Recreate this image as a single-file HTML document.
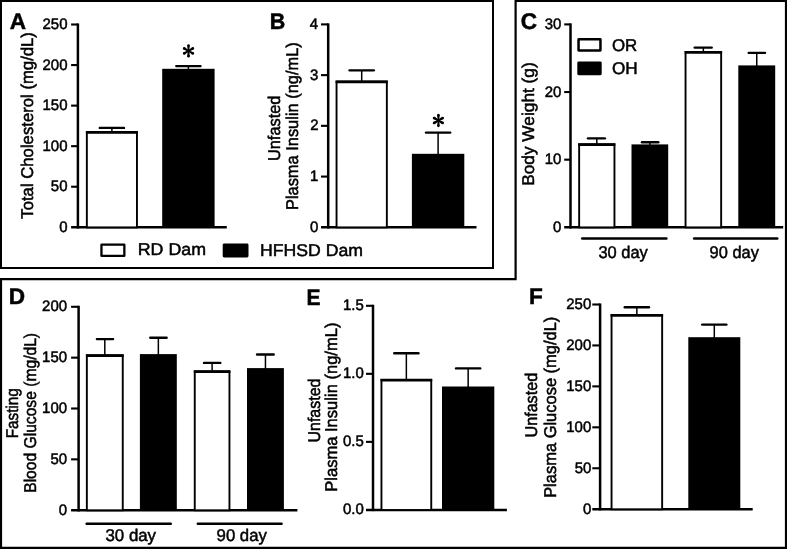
<!DOCTYPE html>
<html><head><meta charset="utf-8"><title>Figure</title>
<style>
html,body{margin:0;padding:0;background:#fff;}
body{width:787px;height:549px;overflow:hidden;font-family:"Liberation Sans",sans-serif;}
svg{display:block;filter:grayscale(1);}
svg text{font-family:"Liberation Sans",sans-serif;fill:#000;stroke:#000;stroke-width:0.5;text-rendering:geometricPrecision;}
</style></head><body>
<svg width="787" height="549" viewBox="0 0 787 549">
<rect width="787" height="549" fill="#fff"/>
<rect x="1" y="1" width="492" height="267" fill="none" stroke="#000" stroke-width="2"/>
<polygon points="515.6,1 786,1 786,547.8 1,547.8 1,279.15 515.6,279.15" fill="none" stroke="#000" stroke-width="2.2"/>
<line x1="77.90" y1="23.45" x2="77.90" y2="228.55" stroke="#000" stroke-width="2.5" stroke-linecap="butt"/>
<line x1="71.10" y1="227.30" x2="226.80" y2="227.30" stroke="#000" stroke-width="2.5" stroke-linecap="butt"/>
<text transform="translate(59.15 231.84) scale(0.9850 1)" font-size="15.2" font-weight="normal">0</text>
<line x1="71.10" y1="186.74" x2="77.90" y2="186.74" stroke="#000" stroke-width="2.1" stroke-linecap="butt"/>
<text transform="translate(50.84 191.28) scale(0.9850 1)" font-size="15.2" font-weight="normal">50</text>
<line x1="71.10" y1="146.18" x2="77.90" y2="146.18" stroke="#000" stroke-width="2.1" stroke-linecap="butt"/>
<text transform="translate(42.50 150.72) scale(0.9850 1)" font-size="15.2" font-weight="normal">100</text>
<line x1="71.10" y1="105.62" x2="77.90" y2="105.62" stroke="#000" stroke-width="2.1" stroke-linecap="butt"/>
<text transform="translate(42.50 110.16) scale(0.9850 1)" font-size="15.2" font-weight="normal">150</text>
<line x1="71.10" y1="65.06" x2="77.90" y2="65.06" stroke="#000" stroke-width="2.1" stroke-linecap="butt"/>
<text transform="translate(42.50 69.60) scale(0.9850 1)" font-size="15.2" font-weight="normal">200</text>
<line x1="71.10" y1="24.50" x2="77.90" y2="24.50" stroke="#000" stroke-width="2.1" stroke-linecap="butt"/>
<text transform="translate(42.50 29.04) scale(0.9850 1)" font-size="15.2" font-weight="normal">250</text>
<line x1="111.90" y1="127.90" x2="111.90" y2="132.10" stroke="#000" stroke-width="1.5" stroke-linecap="butt"/>
<line x1="99.78" y1="127.90" x2="124.03" y2="127.90" stroke="#000" stroke-width="2.35" stroke-linecap="round"/>
<rect x="86.85" y="132.15" width="50.10" height="95.25" fill="#fff" stroke="#000" stroke-width="1.9"/>
<line x1="85.90" y1="132.40" x2="137.90" y2="132.40" stroke="#000" stroke-width="2.7" stroke-linecap="butt"/>
<line x1="188.40" y1="66.05" x2="188.40" y2="69.80" stroke="#000" stroke-width="1.5" stroke-linecap="butt"/>
<line x1="176.27" y1="66.05" x2="200.52" y2="66.05" stroke="#000" stroke-width="2.35" stroke-linecap="round"/>
<rect x="162.20" y="68.80" width="52.40" height="158.50" fill="#000"/>
<polygon points="189.30,50.50 189.80,45.55 187.20,45.55 187.70,50.50" fill="#000"/>
<circle cx="188.50" cy="45.55" r="1.30" fill="#000"/>
<polygon points="188.55,50.01 184.82,47.27 183.52,49.53 187.75,51.39" fill="#000"/>
<circle cx="184.17" cy="48.40" r="1.30" fill="#000"/>
<polygon points="187.75,50.41 183.52,52.27 184.82,54.53 188.55,51.79" fill="#000"/>
<circle cx="184.17" cy="53.40" r="1.30" fill="#000"/>
<polygon points="187.70,51.30 187.20,56.25 189.80,56.25 189.30,51.30" fill="#000"/>
<circle cx="188.50" cy="56.25" r="1.30" fill="#000"/>
<polygon points="188.45,51.79 192.18,54.53 193.48,52.27 189.25,50.41" fill="#000"/>
<circle cx="192.83" cy="53.40" r="1.30" fill="#000"/>
<polygon points="189.25,51.39 193.48,49.53 192.18,47.27 188.45,50.01" fill="#000"/>
<circle cx="192.83" cy="48.40" r="1.30" fill="#000"/>
<circle cx="188.50" cy="50.90" r="1.4" fill="#000"/>
<text transform="translate(9.63 28.80) scale(1.0000 1)" font-size="22.6" font-weight="bold">A</text>
<text transform="translate(33.10 218.68) rotate(-90) scale(0.9826 1)" font-size="17" font-weight="normal">Total Cholesterol (mg/dL)</text>
<rect x="101.45" y="244.55" width="22.90" height="11.40" rx="0.25" fill="#fff" stroke="#000" stroke-width="2.3"/>
<text transform="translate(137.73 255.40) scale(1.0472 1)" font-size="17" font-weight="normal">RD Dam</text>
<rect x="222.70" y="243.50" width="25.80" height="13.90" rx="1.4" fill="#000"/>
<text transform="translate(259.94 255.80) scale(1.0389 1)" font-size="17" font-weight="normal">HFHSD Dam</text>
<line x1="328.20" y1="23.35" x2="328.20" y2="228.55" stroke="#000" stroke-width="2.5" stroke-linecap="butt"/>
<line x1="321.00" y1="227.30" x2="476.50" y2="227.30" stroke="#000" stroke-width="2.5" stroke-linecap="butt"/>
<text transform="translate(309.95 231.84) scale(0.9850 1)" font-size="15.2" font-weight="normal">0</text>
<line x1="321.00" y1="176.58" x2="328.20" y2="176.58" stroke="#000" stroke-width="2.1" stroke-linecap="butt"/>
<text transform="translate(310.10 181.12) scale(0.9850 1)" font-size="15.2" font-weight="normal">1</text>
<line x1="321.00" y1="125.85" x2="328.20" y2="125.85" stroke="#000" stroke-width="2.1" stroke-linecap="butt"/>
<text transform="translate(310.14 130.39) scale(0.9850 1)" font-size="15.2" font-weight="normal">2</text>
<line x1="321.00" y1="75.12" x2="328.20" y2="75.12" stroke="#000" stroke-width="2.1" stroke-linecap="butt"/>
<text transform="translate(310.03 79.67) scale(0.9850 1)" font-size="15.2" font-weight="normal">3</text>
<line x1="321.00" y1="24.40" x2="328.20" y2="24.40" stroke="#000" stroke-width="2.1" stroke-linecap="butt"/>
<text transform="translate(309.80 28.94) scale(0.9850 1)" font-size="15.2" font-weight="normal">4</text>
<line x1="361.70" y1="70.30" x2="361.70" y2="81.50" stroke="#000" stroke-width="1.5" stroke-linecap="butt"/>
<line x1="349.58" y1="70.30" x2="373.83" y2="70.30" stroke="#000" stroke-width="2.35" stroke-linecap="round"/>
<rect x="336.55" y="81.55" width="50.30" height="145.85" fill="#fff" stroke="#000" stroke-width="1.9"/>
<line x1="335.60" y1="81.80" x2="387.80" y2="81.80" stroke="#000" stroke-width="2.7" stroke-linecap="butt"/>
<line x1="438.10" y1="132.60" x2="438.10" y2="154.80" stroke="#000" stroke-width="1.5" stroke-linecap="butt"/>
<line x1="425.98" y1="132.60" x2="450.23" y2="132.60" stroke="#000" stroke-width="2.35" stroke-linecap="round"/>
<rect x="411.90" y="153.80" width="52.40" height="73.50" fill="#000"/>
<polygon points="439.20,120.10 439.70,115.15 437.10,115.15 437.60,120.10" fill="#000"/>
<circle cx="438.40" cy="115.15" r="1.30" fill="#000"/>
<polygon points="438.45,119.61 434.72,116.87 433.42,119.13 437.65,120.99" fill="#000"/>
<circle cx="434.07" cy="118.00" r="1.30" fill="#000"/>
<polygon points="437.65,120.01 433.42,121.87 434.72,124.13 438.45,121.39" fill="#000"/>
<circle cx="434.07" cy="123.00" r="1.30" fill="#000"/>
<polygon points="437.60,120.90 437.10,125.85 439.70,125.85 439.20,120.90" fill="#000"/>
<circle cx="438.40" cy="125.85" r="1.30" fill="#000"/>
<polygon points="438.35,121.39 442.08,124.13 443.38,121.87 439.15,120.01" fill="#000"/>
<circle cx="442.73" cy="123.00" r="1.30" fill="#000"/>
<polygon points="439.15,120.99 443.38,119.13 442.08,116.87 438.35,119.61" fill="#000"/>
<circle cx="442.73" cy="118.00" r="1.30" fill="#000"/>
<circle cx="438.40" cy="120.50" r="1.4" fill="#000"/>
<text transform="translate(269.85 28.70) scale(0.9500 1)" font-size="22.6" font-weight="bold">B</text>
<text transform="translate(280.20 161.07) rotate(-90) scale(0.9625 1)" font-size="17" font-weight="normal">Unfasted</text>
<text transform="translate(297.80 210.05) rotate(-90) scale(0.9652 1)" font-size="17" font-weight="normal">Plasma Insulin (ng/mL)</text>
<line x1="570.50" y1="23.35" x2="570.50" y2="228.55" stroke="#000" stroke-width="2.5" stroke-linecap="butt"/>
<line x1="564.20" y1="227.30" x2="783.20" y2="227.30" stroke="#000" stroke-width="2.5" stroke-linecap="butt"/>
<text transform="translate(553.05 231.84) scale(0.9850 1)" font-size="15.2" font-weight="normal">0</text>
<line x1="564.20" y1="159.67" x2="570.50" y2="159.67" stroke="#000" stroke-width="2.1" stroke-linecap="butt"/>
<text transform="translate(544.74 164.21) scale(0.9850 1)" font-size="15.2" font-weight="normal">10</text>
<line x1="564.20" y1="92.03" x2="570.50" y2="92.03" stroke="#000" stroke-width="2.1" stroke-linecap="butt"/>
<text transform="translate(544.74 96.57) scale(0.9850 1)" font-size="15.2" font-weight="normal">20</text>
<line x1="564.20" y1="24.40" x2="570.50" y2="24.40" stroke="#000" stroke-width="2.1" stroke-linecap="butt"/>
<text transform="translate(544.74 28.94) scale(0.9850 1)" font-size="15.2" font-weight="normal">30</text>
<line x1="596.80" y1="138.30" x2="596.80" y2="144.30" stroke="#000" stroke-width="1.5" stroke-linecap="butt"/>
<line x1="587.97" y1="138.30" x2="604.93" y2="138.30" stroke="#000" stroke-width="2.35" stroke-linecap="round"/>
<rect x="579.15" y="144.35" width="35.30" height="83.05" fill="#fff" stroke="#000" stroke-width="1.9"/>
<line x1="578.20" y1="144.60" x2="615.40" y2="144.60" stroke="#000" stroke-width="2.7" stroke-linecap="butt"/>
<line x1="649.85" y1="142.20" x2="649.85" y2="145.40" stroke="#000" stroke-width="1.5" stroke-linecap="butt"/>
<line x1="641.97" y1="142.20" x2="658.33" y2="142.20" stroke="#000" stroke-width="2.35" stroke-linecap="round"/>
<rect x="631.50" y="144.40" width="36.70" height="82.90" fill="#000"/>
<line x1="703.35" y1="47.60" x2="703.35" y2="52.00" stroke="#000" stroke-width="1.5" stroke-linecap="butt"/>
<line x1="694.67" y1="47.60" x2="711.73" y2="47.60" stroke="#000" stroke-width="2.35" stroke-linecap="round"/>
<rect x="685.55" y="52.05" width="35.60" height="175.35" fill="#fff" stroke="#000" stroke-width="1.9"/>
<line x1="684.60" y1="52.30" x2="722.10" y2="52.30" stroke="#000" stroke-width="2.7" stroke-linecap="butt"/>
<line x1="756.75" y1="52.80" x2="756.75" y2="66.40" stroke="#000" stroke-width="1.5" stroke-linecap="butt"/>
<line x1="748.67" y1="52.80" x2="765.03" y2="52.80" stroke="#000" stroke-width="2.35" stroke-linecap="round"/>
<rect x="738.30" y="65.40" width="36.90" height="161.90" fill="#000"/>
<text transform="translate(520.70 28.60) scale(1.0000 1)" font-size="22.6" font-weight="bold">C</text>
<text transform="translate(534.10 185.83) rotate(-90) scale(1.0161 1)" font-size="17" font-weight="normal">Body Weight (g)</text>
<rect x="578.55" y="39.35" width="21.90" height="11.20" rx="0.20" fill="#fff" stroke="#000" stroke-width="2.5"/>
<rect x="577.30" y="61.50" width="24.40" height="13.70" rx="1.4" fill="#000"/>
<text transform="translate(611.90 50.50) scale(0.9923 1)" font-size="17" font-weight="normal">OR</text>
<text transform="translate(611.89 73.80) scale(1.0090 1)" font-size="17" font-weight="normal">OH</text>
<line x1="582.20" y1="238.50" x2="666.40" y2="238.50" stroke="#000" stroke-width="2.4" stroke-linecap="round"/>
<line x1="694.10" y1="238.50" x2="777.30" y2="238.50" stroke="#000" stroke-width="2.4" stroke-linecap="round"/>
<text transform="translate(598.38 257.80) scale(0.9690 1)" font-size="17" font-weight="normal">30 day</text>
<text transform="translate(709.62 257.80) scale(0.9643 1)" font-size="17" font-weight="normal">90 day</text>
<line x1="78.60" y1="305.75" x2="78.60" y2="511.45" stroke="#000" stroke-width="2.5" stroke-linecap="butt"/>
<line x1="71.10" y1="510.20" x2="297.40" y2="510.20" stroke="#000" stroke-width="2.5" stroke-linecap="butt"/>
<text transform="translate(58.75 514.74) scale(0.9850 1)" font-size="15.2" font-weight="normal">0</text>
<line x1="71.10" y1="459.35" x2="78.60" y2="459.35" stroke="#000" stroke-width="2.1" stroke-linecap="butt"/>
<text transform="translate(50.44 463.89) scale(0.9850 1)" font-size="15.2" font-weight="normal">50</text>
<line x1="71.10" y1="408.50" x2="78.60" y2="408.50" stroke="#000" stroke-width="2.1" stroke-linecap="butt"/>
<text transform="translate(42.10 413.04) scale(0.9850 1)" font-size="15.2" font-weight="normal">100</text>
<line x1="71.10" y1="357.65" x2="78.60" y2="357.65" stroke="#000" stroke-width="2.1" stroke-linecap="butt"/>
<text transform="translate(42.10 362.19) scale(0.9850 1)" font-size="15.2" font-weight="normal">150</text>
<line x1="71.10" y1="306.80" x2="78.60" y2="306.80" stroke="#000" stroke-width="2.1" stroke-linecap="butt"/>
<text transform="translate(42.10 311.34) scale(0.9850 1)" font-size="15.2" font-weight="normal">200</text>
<line x1="104.80" y1="339.10" x2="104.80" y2="355.30" stroke="#000" stroke-width="1.5" stroke-linecap="butt"/>
<line x1="96.88" y1="339.10" x2="113.12" y2="339.10" stroke="#000" stroke-width="2.35" stroke-linecap="round"/>
<rect x="86.85" y="355.35" width="35.90" height="154.95" fill="#fff" stroke="#000" stroke-width="1.9"/>
<line x1="85.90" y1="355.60" x2="123.70" y2="355.60" stroke="#000" stroke-width="2.7" stroke-linecap="butt"/>
<line x1="158.35" y1="337.70" x2="158.35" y2="355.10" stroke="#000" stroke-width="1.5" stroke-linecap="butt"/>
<line x1="150.28" y1="337.70" x2="166.62" y2="337.70" stroke="#000" stroke-width="2.35" stroke-linecap="round"/>
<rect x="139.90" y="354.10" width="36.90" height="156.10" fill="#000"/>
<line x1="212.10" y1="362.90" x2="212.10" y2="371.40" stroke="#000" stroke-width="1.5" stroke-linecap="butt"/>
<line x1="203.98" y1="362.90" x2="220.32" y2="362.90" stroke="#000" stroke-width="2.35" stroke-linecap="round"/>
<rect x="194.75" y="371.45" width="34.70" height="138.85" fill="#fff" stroke="#000" stroke-width="1.9"/>
<line x1="193.80" y1="371.70" x2="230.40" y2="371.70" stroke="#000" stroke-width="2.7" stroke-linecap="butt"/>
<line x1="265.45" y1="354.50" x2="265.45" y2="369.10" stroke="#000" stroke-width="1.5" stroke-linecap="butt"/>
<line x1="257.07" y1="354.50" x2="273.72" y2="354.50" stroke="#000" stroke-width="2.35" stroke-linecap="round"/>
<rect x="247.00" y="368.10" width="36.90" height="142.10" fill="#000"/>
<text transform="translate(8.87 304.20) scale(1.0000 1)" font-size="22.6" font-weight="bold">D</text>
<text transform="translate(17.80 438.26) rotate(-90) scale(0.8976 1)" font-size="17" font-weight="normal">Fasting</text>
<text transform="translate(36.40 492.79) rotate(-90) scale(0.9195 1)" font-size="17" font-weight="normal">Blood Glucose (mg/dL)</text>
<line x1="86.60" y1="523.70" x2="170.80" y2="523.70" stroke="#000" stroke-width="2.4" stroke-linecap="round"/>
<line x1="197.80" y1="523.70" x2="281.60" y2="523.70" stroke="#000" stroke-width="2.4" stroke-linecap="round"/>
<text transform="translate(105.47 541.20) scale(0.9908 1)" font-size="17" font-weight="normal">30 day</text>
<text transform="translate(216.61 541.20) scale(0.9842 1)" font-size="17" font-weight="normal">90 day</text>
<line x1="373.00" y1="304.75" x2="373.00" y2="511.15" stroke="#000" stroke-width="2.5" stroke-linecap="butt"/>
<line x1="366.00" y1="509.90" x2="506.90" y2="509.90" stroke="#000" stroke-width="2.5" stroke-linecap="butt"/>
<text transform="translate(342.95 514.44) scale(0.9850 1)" font-size="15.2" font-weight="normal">0.0</text>
<line x1="366.00" y1="441.87" x2="373.00" y2="441.87" stroke="#000" stroke-width="2.1" stroke-linecap="butt"/>
<text transform="translate(342.99 446.41) scale(0.9850 1)" font-size="15.2" font-weight="normal">0.5</text>
<line x1="366.00" y1="373.83" x2="373.00" y2="373.83" stroke="#000" stroke-width="2.1" stroke-linecap="butt"/>
<text transform="translate(342.95 378.37) scale(0.9850 1)" font-size="15.2" font-weight="normal">1.0</text>
<line x1="366.00" y1="305.80" x2="373.00" y2="305.80" stroke="#000" stroke-width="2.1" stroke-linecap="butt"/>
<text transform="translate(342.99 310.34) scale(0.9850 1)" font-size="15.2" font-weight="normal">1.5</text>
<line x1="406.35" y1="353.20" x2="406.35" y2="379.90" stroke="#000" stroke-width="1.5" stroke-linecap="butt"/>
<line x1="394.23" y1="353.20" x2="418.48" y2="353.20" stroke="#000" stroke-width="2.35" stroke-linecap="round"/>
<rect x="381.45" y="379.95" width="49.80" height="130.05" fill="#fff" stroke="#000" stroke-width="1.9"/>
<line x1="380.50" y1="380.20" x2="432.20" y2="380.20" stroke="#000" stroke-width="2.7" stroke-linecap="butt"/>
<line x1="468.15" y1="368.40" x2="468.15" y2="387.50" stroke="#000" stroke-width="1.5" stroke-linecap="butt"/>
<line x1="456.02" y1="368.40" x2="480.27" y2="368.40" stroke="#000" stroke-width="2.35" stroke-linecap="round"/>
<rect x="442.00" y="386.50" width="52.30" height="123.40" fill="#000"/>
<text transform="translate(306.38 304.60) scale(0.9300 1)" font-size="22.6" font-weight="bold">E</text>
<text transform="translate(319.70 442.54) rotate(-90) scale(0.9397 1)" font-size="17" font-weight="normal">Unfasted</text>
<text transform="translate(336.80 491.77) rotate(-90) scale(0.9734 1)" font-size="17" font-weight="normal">Plasma Insulin (ng/mL)</text>
<line x1="600.10" y1="303.45" x2="600.10" y2="510.45" stroke="#000" stroke-width="2.5" stroke-linecap="butt"/>
<line x1="592.30" y1="509.20" x2="752.70" y2="509.20" stroke="#000" stroke-width="2.5" stroke-linecap="butt"/>
<text transform="translate(582.95 513.74) scale(0.9850 1)" font-size="15.2" font-weight="normal">0</text>
<line x1="592.30" y1="468.26" x2="600.10" y2="468.26" stroke="#000" stroke-width="2.1" stroke-linecap="butt"/>
<text transform="translate(574.64 472.80) scale(0.9850 1)" font-size="15.2" font-weight="normal">50</text>
<line x1="592.30" y1="427.32" x2="600.10" y2="427.32" stroke="#000" stroke-width="2.1" stroke-linecap="butt"/>
<text transform="translate(566.30 431.86) scale(0.9850 1)" font-size="15.2" font-weight="normal">100</text>
<line x1="592.30" y1="386.38" x2="600.10" y2="386.38" stroke="#000" stroke-width="2.1" stroke-linecap="butt"/>
<text transform="translate(566.30 390.92) scale(0.9850 1)" font-size="15.2" font-weight="normal">150</text>
<line x1="592.30" y1="345.44" x2="600.10" y2="345.44" stroke="#000" stroke-width="2.1" stroke-linecap="butt"/>
<text transform="translate(566.30 349.98) scale(0.9850 1)" font-size="15.2" font-weight="normal">200</text>
<line x1="592.30" y1="304.50" x2="600.10" y2="304.50" stroke="#000" stroke-width="2.1" stroke-linecap="butt"/>
<text transform="translate(566.30 309.04) scale(0.9850 1)" font-size="15.2" font-weight="normal">250</text>
<line x1="636.85" y1="307.20" x2="636.85" y2="315.00" stroke="#000" stroke-width="1.5" stroke-linecap="butt"/>
<line x1="624.73" y1="307.20" x2="648.98" y2="307.20" stroke="#000" stroke-width="2.35" stroke-linecap="round"/>
<rect x="611.55" y="315.05" width="50.60" height="194.25" fill="#fff" stroke="#000" stroke-width="1.9"/>
<line x1="610.60" y1="315.30" x2="663.10" y2="315.30" stroke="#000" stroke-width="2.7" stroke-linecap="butt"/>
<line x1="714.30" y1="324.60" x2="714.30" y2="338.20" stroke="#000" stroke-width="1.5" stroke-linecap="butt"/>
<line x1="702.17" y1="324.60" x2="726.42" y2="324.60" stroke="#000" stroke-width="2.35" stroke-linecap="round"/>
<rect x="688.30" y="337.20" width="52.00" height="172.00" fill="#000"/>
<text transform="translate(528.97 304.40) scale(1.0000 1)" font-size="22.6" font-weight="bold">F</text>
<text transform="translate(536.60 437.45) rotate(-90) scale(0.9488 1)" font-size="17" font-weight="normal">Unfasted</text>
<text transform="translate(555.50 497.86) rotate(-90) scale(0.9687 1)" font-size="17" font-weight="normal">Plasma Glucose (mg/dL)</text>
</svg>
</body></html>
